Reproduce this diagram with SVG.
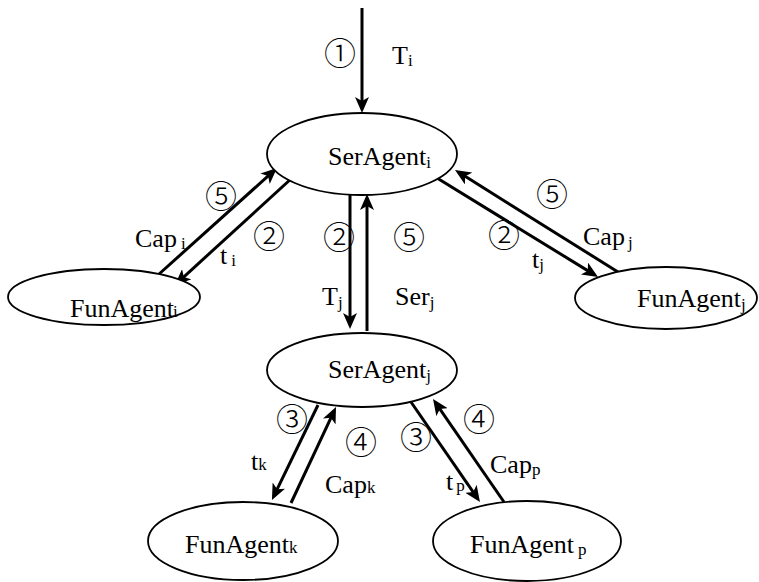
<svg xmlns="http://www.w3.org/2000/svg" width="759" height="582" viewBox="0 0 759 582">
<style>
.node ellipse{fill:#fff;stroke:#000;stroke-width:1.8}
.lbl{font-family:"Liberation Serif","Times New Roman",serif;font-size:26px;fill:#000}
.sub{font-size:17px}
.num{font-family:"Noto Sans CJK SC","DejaVu Sans",sans-serif;font-size:32px;font-weight:300;fill:#000;text-anchor:middle}
.conn line{stroke:#000;stroke-width:3;fill:none;marker-end:url(#ah)}
</style>
<defs>
<marker id="ah" viewBox="0 0 16 14" refX="12" refY="7" markerWidth="16" markerHeight="14" markerUnits="userSpaceOnUse" orient="auto">
<path d="M0,0 L16,7 L0,14 L4,7 z" fill="#000"/>
</marker>
</defs>
<g id="connectors" class="conn">
<line x1="362" y1="8" x2="362" y2="109"/>
<line x1="158" y1="275" x2="274" y2="170.7"/>
<line x1="292" y1="178" x2="177.9" y2="282.3"/>
<line x1="350" y1="194" x2="350" y2="325"/>
<line x1="367" y1="331" x2="367" y2="198"/>
<line x1="437" y1="178" x2="594.6" y2="274.9"/>
<line x1="618" y1="272" x2="458.4" y2="172.1"/>
<line x1="318" y1="405" x2="273.7" y2="496.4"/>
<line x1="291" y1="503" x2="334.3" y2="410.6"/>
<line x1="411" y1="402" x2="477.7" y2="498.7"/>
<line x1="504" y1="502" x2="435.3" y2="402.3"/>
</g>
<g id="serAgent_i" class="node">
<ellipse cx="362" cy="154" rx="95" ry="41"/>
<text class="lbl" x="328" y="165">SerAgent<tspan class="sub" dy="3">i</tspan></text>
</g>
<g id="serAgent_j" class="node">
<ellipse cx="362" cy="370" rx="95" ry="37"/>
<text class="lbl" x="328" y="378">SerAgent<tspan class="sub" dy="3">j</tspan></text>
</g>
<g id="funAgent_i" class="node">
<ellipse cx="104" cy="297" rx="96" ry="28"/>
<text class="lbl" x="70" y="317">FunAgent<tspan class="sub" dx="-1" dy="0">i</tspan></text>
</g>
<g id="funAgent_j" class="node">
<ellipse cx="666" cy="298" rx="91" ry="31"/>
<text class="lbl" x="637" y="307">FunAgent<tspan class="sub" dy="3">j</tspan></text>
</g>
<g id="funAgent_k" class="node">
<ellipse cx="243" cy="541" rx="95" ry="39"/>
<text class="lbl" x="185" y="553">FunAgent<tspan class="sub" dy="0">k</tspan></text>
</g>
<g id="funAgent_p" class="node">
<ellipse cx="527" cy="541" rx="94" ry="40"/>
<text class="lbl" x="470" y="553">FunAgent<tspan class="sub" dx="4" dy="2">p</tspan></text>
</g>
<g id="labels">
<text class="num" x="340" y="65">①</text>
<text class="lbl" x="392" y="64">T<tspan class="sub" dy="2">i</tspan></text>
<text class="num" x="221" y="208">⑤</text>
<text class="lbl" x="135" y="247">Cap<tspan class="sub" dx="4" dy="2">i</tspan></text>
<text class="num" x="269" y="248">②</text>
<text class="lbl" x="220" y="264">t<tspan class="sub" dx="4" dy="2">i</tspan></text>
<text class="num" x="339" y="249">②</text>
<text class="num" x="409" y="249">⑤</text>
<text class="lbl" x="322" y="305">T<tspan class="sub" dy="3">j</tspan></text>
<text class="lbl" x="395" y="305">Ser<tspan class="sub" dy="3">j</tspan></text>
<text class="num" x="552" y="206">⑤</text>
<text class="num" x="504" y="247">②</text>
<text class="lbl" x="583" y="245">Cap<tspan class="sub" dx="3" dy="3">j</tspan></text>
<text class="lbl" x="532" y="268">t<tspan class="sub" dy="2">j</tspan></text>
<text class="num" x="292" y="431">③</text>
<text class="num" x="361" y="454">④</text>
<text class="lbl" x="251" y="470">t<tspan class="sub" dy="0">k</tspan></text>
<text class="lbl" x="325" y="493">Cap<tspan class="sub" dy="0">k</tspan></text>
<text class="num" x="416" y="449">③</text>
<text class="num" x="479" y="431">④</text>
<text class="lbl" x="490" y="473">Cap<tspan class="sub" dy="2">p</tspan></text>
<text class="lbl" x="446" y="490">t<tspan class="sub" dx="3" dy="1">p</tspan></text>
</g>
</svg>
